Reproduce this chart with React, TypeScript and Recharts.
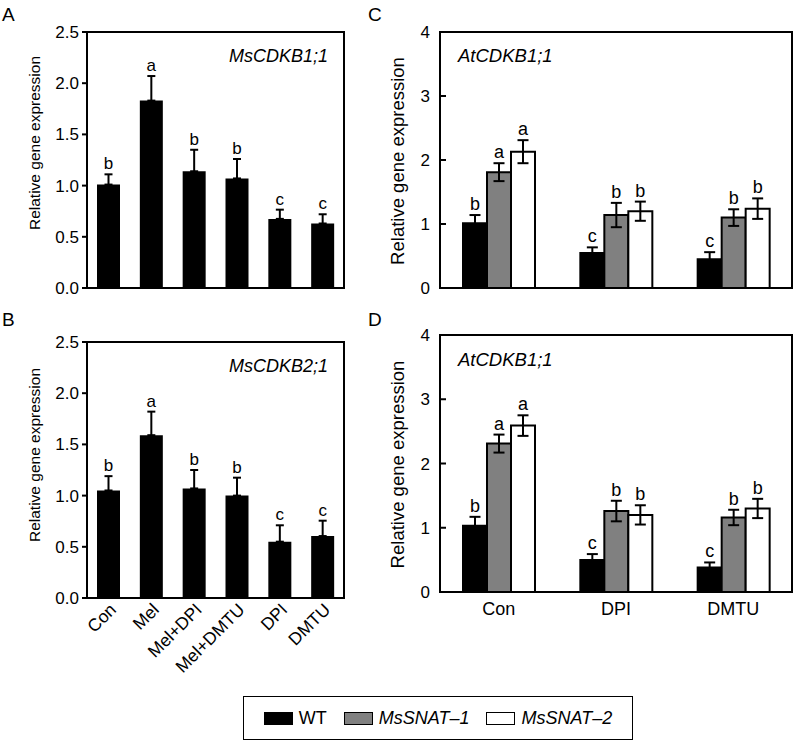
import React from "react";
import { BarChart, Bar, XAxis, YAxis, ErrorBar, LabelList, Label, ReferenceArea } from "recharts";

const FONT = '"Liberation Sans", Arial, Helvetica, sans-serif';

// panels A and B: six treatments, one genotype
const treatments = ["Con", "Mel", "Mel+DPI", "Mel+DMTU", "DPI", "DMTU"];
const msB1Mean = [1.01, 1.83, 1.14, 1.07, 0.675, 0.63];
const msB1Err = [0.1, 0.24, 0.21, 0.19, 0.09, 0.09];
const msB1Letters = ["b", "a", "b", "b", "c", "c"];
const msB2Mean = [1.05, 1.59, 1.07, 1.0, 0.55, 0.605];
const msB2Err = [0.14, 0.23, 0.18, 0.175, 0.16, 0.15];
const msB2Letters = ["b", "a", "b", "b", "c", "c"];

// panels C and D: three treatments x three lines
const groups = ["Con", "DPI", "DMTU"];
const lines = ["WT", "MsSNAT\u20131", "MsSNAT\u20132"];
const lineFill = ["#000000", "#808080", "#ffffff"];

const cWt = [1.01, 0.545, 0.45];
const cWtErr = [0.13, 0.09, 0.11];
const cS1 = [1.81, 1.14, 1.1];
const cS1Err = [0.14, 0.19, 0.13];
const cS2 = [2.13, 1.2, 1.24];
const cS2Err = [0.18, 0.15, 0.16];
const cLetters = [["b", "c", "c"], ["a", "b", "b"], ["a", "b", "b"]];

const dWt = [1.03, 0.5, 0.38];
const dWtErr = [0.14, 0.09, 0.08];
const dS1 = [2.31, 1.26, 1.16];
const dS1Err = [0.14, 0.16, 0.12];
const dS2 = [2.59, 1.2, 1.3];
const dS2Err = [0.16, 0.15, 0.15];
const dLetters = [["b", "c", "c"], ["a", "b", "b"], ["a", "b", "b"]];

const axisStyle = { stroke: "#000", strokeWidth: 2 };

const rowsA = treatments.map((name, i) => ({ name, mean: msB1Mean[i], err: [0, msB1Err[i]] }));
const rowsB = treatments.map((name, i) => ({ name, mean: msB2Mean[i], err: [0, msB2Err[i]] }));

const groupRows = (m: number[][], e: number[][]) =>
  groups.map((name, i) => ({
    name,
    v0: m[0][i], e0: e[0][i],
    v1: m[1][i], e1: e[1][i],
    v2: m[2][i], e2: e[2][i],
  }));
const rowsC = groupRows([cWt, cS1, cS2], [cWtErr, cS1Err, cS2Err]);
const rowsD = groupRows([dWt, dS1, dS2], [dWtErr, dS1Err, dS2Err]);

// letter above the error bar; error length in px taken from the bar's own px/unit
function letterContent(errs: number[], letters: string[], fontSize: number) {
  return (p: any) => {
    const vb = p.viewBox || p;
    const { x, y, width } = vb;
    const h = Math.abs(vb.height);
    const v = Number(p.value);
    const idx = p.index;
    const errPx = v ? (errs[idx] / v) * h : 0;
    return (
      <text x={x + width / 2} y={y - errPx - 5} textAnchor="middle" fontSize={fontSize} fontFamily={FONT} fill="#000">
        {letters[idx]}
      </text>
    );
  };
}

function yLabel(dx: number, dy: number, size: number) {
  return (p: any) => {
    const { x, y, height } = p.viewBox;
    const cx = x + dx;
    const cy = y + height / 2 + dy;
    return (
      <text x={cx} y={cy} dy="0.35em" transform={`rotate(-90, ${cx}, ${cy})`} textAnchor="middle" fontSize={size} fontFamily={FONT} fill="#000">
        Relative gene expression
      </text>
    );
  };
}

function geneLabel(text: string, side: "left" | "right", dy: number, size: number) {
  return (p: any) => {
    const { x, y, width } = p.viewBox;
    const tx = side === "right" ? x + width - 16 : x + 18;
    return (
      <text x={tx} y={y + dy} textAnchor={side === "right" ? "end" : "start"} fontSize={size} fontStyle="italic" fontFamily={FONT} fill="#000">
        {text}
      </text>
    );
  };
}

const InwardTick = (p: any) => {
  const { x, y, payload } = p;
  return (
    <g>
      <line x1={x + 10} x2={x + 16} y1={y} y2={y} stroke="#000" strokeWidth={2} />
      <text x={x} y={y} dy="0.36em" textAnchor="end" fontSize={17} fontFamily={FONT} fill="#000">
        {payload.value}
      </text>
    </g>
  );
};

function SinglePanel({ rows, errs, letters, gene, labelDy, showX, height }: any) {
  return (
    <BarChart
      width={360}
      height={height}
      data={rows}
      margin={{ top: 32, right: 16, bottom: 12, left: 27 }}
      barCategoryGap={10}
    >
      {showX ? (
        <XAxis
          dataKey="name"
          interval={0}
          height={80}
          tickLine={false}
          tickSize={4}
          tickMargin={0}
          angle={-45}
          textAnchor="end"
          axisLine={axisStyle}
          tick={{ fill: "#000", fontSize: 17.5, fontFamily: FONT, angle: -45, textAnchor: "end" }}
        />
      ) : (
        <XAxis dataKey="name" tick={false} tickLine={false} height={0} axisLine={axisStyle} />
      )}
      <YAxis
        domain={[0, 2.5]}
        ticks={[0, 0.5, 1, 1.5, 2, 2.5]}
        tickFormatter={(v: number) => v.toFixed(1)}
        width={60}
        tickSize={5}
        tickMargin={3}
        tick={{ fill: "#000", fontSize: 17, fontFamily: FONT }}
        tickLine={axisStyle}
        axisLine={axisStyle}
      >
        <Label content={yLabel(8, labelDy, 15.5)} />
      </YAxis>
      <ReferenceArea y1={0} y2={2.5} fill="none" stroke="#000" strokeWidth={2} ifOverflow="visible">
        <Label content={geneLabel(gene, "right", 30, 18)} />
      </ReferenceArea>
      <Bar dataKey="mean" fill="#000" isAnimationActive={false}>
        <ErrorBar dataKey="err" width={4} stroke="#000" strokeWidth={2} direction="y" />
        <LabelList dataKey="mean" content={letterContent(errs, letters, 17)} />
      </Bar>
    </BarChart>
  );
}

function GroupPanel({ rows, errs, letters, gene, top, geneDy, showX, height }: any) {
  return (
    <BarChart
      width={415}
      height={height}
      data={rows}
      margin={{ top, right: 3, bottom: 12, left: 0 }}
      barCategoryGap={23}
      barGap={0}
    >
      {showX ? (
        <XAxis
          dataKey="name"
          interval={0}
          height={36}
          tickLine={false}
          tickSize={6}
          tickMargin={4}
          axisLine={axisStyle}
          tick={{ fill: "#000", fontSize: 18, fontFamily: FONT }}
        />
      ) : (
        <XAxis dataKey="name" tick={false} tickLine={false} height={0} axisLine={axisStyle} />
      )}
      <YAxis
        domain={[0, 4]}
        ticks={[0, 1, 2, 3, 4]}
        width={60}
        tickSize={6}
        tickMargin={4}
        tickLine={false}
        tick={<InwardTick />}
        axisLine={axisStyle}
      >
        <Label content={yLabel(18, 1, 18.5)} />
      </YAxis>
      <ReferenceArea y1={0} y2={4} fill="none" stroke="#000" strokeWidth={2} ifOverflow="visible">
        <Label content={geneLabel(gene, "left", geneDy, 18.5)} />
      </ReferenceArea>
      {lines.map((ln, k) => (
        <Bar key={ln} dataKey={`v${k}`} name={ln} fill={lineFill[k]} stroke="#000" strokeWidth={2} isAnimationActive={false}>
          <ErrorBar dataKey={`e${k}`} width={5.5} stroke="#000" strokeWidth={2} direction="y" />
          <LabelList dataKey={`v${k}`} content={letterContent(errs[k], letters[k], 18)} />
        </Bar>
      ))}
    </BarChart>
  );
}

const panelLetter = (t: string, left: number, top: number) => (
  <div style={{ position: "absolute", left, top, fontSize: 19, lineHeight: 1, fontFamily: FONT }}>{t}</div>
);

export default function App() {
  return (
    <div style={{ position: "absolute", left: 0, top: 0, width: 795, height: 742, background: "#fff", fontFamily: FONT }}>
      {panelLetter("A", 2, 5)}
      {panelLetter("B", 2, 310)}
      {panelLetter("C", 368, 5)}
      {panelLetter("D", 368, 310)}

      <div style={{ position: "absolute", left: 0, top: 0 }}>
        <SinglePanel rows={rowsA} errs={msB1Err} letters={msB1Letters} gene="MsCDKB1;1" labelDy={-17} showX={false} height={300} />
      </div>
      <div style={{ position: "absolute", left: 0, top: 310 }}>
        <SinglePanel rows={rowsB} errs={msB2Err} letters={msB2Letters} gene="MsCDKB2;1" labelDy={-15} showX={true} height={380} />
      </div>
      <div style={{ position: "absolute", left: 380, top: 0 }}>
        <GroupPanel rows={rowsC} errs={[cWtErr, cS1Err, cS2Err]} letters={cLetters} gene="AtCDKB1;1" top={32} geneDy={30} showX={false} height={300} />
      </div>
      <div style={{ position: "absolute", left: 380, top: 310 }}>
        <GroupPanel rows={rowsD} errs={[dWtErr, dS1Err, dS2Err]} letters={dLetters} gene="AtCDKB1;1" top={25} geneDy={31} showX={true} height={330} />
      </div>

      <div
        style={{
          position: "absolute",
          left: 243,
          top: 696,
          width: 390,
          height: 44,
          boxSizing: "border-box",
          border: "1.5px solid #000",
          display: "flex",
          alignItems: "center",
          justifyContent: "center",
          gap: 17,
          fontSize: 18,
        }}
      >
        {lines.map((ln, k) => (
          <div key={ln} style={{ display: "flex", alignItems: "center", gap: 6 }}>
            <div style={{ width: 29, height: 13, boxSizing: "border-box", border: "1.5px solid #000", background: lineFill[k] }} />
            <span style={{ fontStyle: k === 0 ? "normal" : "italic" }}>{ln}</span>
          </div>
        ))}
      </div>
    </div>
  );
}
